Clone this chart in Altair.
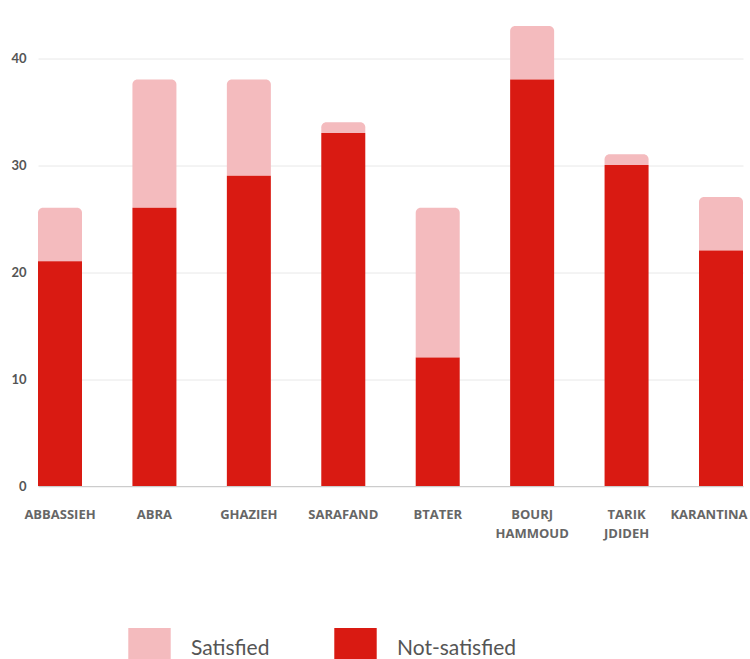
import altair as alt
import pandas as pd

areas = ["ABBASSIEH", "ABRA", "GHAZIEH", "SARAFAND", "BTATER", "BOURJ HAMMOUD", "TARIK JDIDEH", "KARANTINA"]
not_satisfied = [21, 26, 29, 33, 12, 38, 30, 22]
satisfied = [5, 12, 9, 1, 14, 5, 1, 5]

rows = []
for a, n, s in zip(areas, not_satisfied, satisfied):
    rows.append({"area": a, "status": "Not-satisfied", "y0": 0, "y1": n})
    rows.append({"area": a, "status": "Satisfied", "y0": n, "y1": n + s})
df = pd.DataFrame(rows)

color = alt.Color(
    "status:N",
    scale=alt.Scale(domain=["Satisfied", "Not-satisfied"], range=["#F4BBBE", "#D91A12"]),
    legend=alt.Legend(
        title=None, orient="none", direction="horizontal",
        legendX=90, legendY=623, symbolType="square", symbolSize=1800,
        symbolStrokeWidth=0, labelFontSize=21, labelFont="Lato", labelColor="#555555",
        labelOffset=20, columnPadding=64, symbolOpacity=1,
    ),
)

x = alt.X(
    "area:N", sort=areas, title=None,
    scale=alt.Scale(paddingInner=0.534, paddingOuter=0),
    axis=alt.Axis(
        labelAngle=0, labelFont="Open Sans", labelFontWeight="bold", labelFontSize=13,
        labelColor="#666666", labelPadding=22, ticks=False, domainColor="#cccccc",
        labelExpr="split(datum.label, ' ')", labelLineHeight=19, labelLimit=200,
        labelOffset=alt.ExprRef("datum.value == 'KARANTINA' ? -12 : 0"),
    ),
)
y = alt.Y(
    "y0:Q", title=None,
    scale=alt.Scale(domain=[0, 45], nice=False),
    axis=alt.Axis(
        values=[0, 10, 20, 30, 40], labelFont="Lato", labelFontWeight="bold", labelFontSize=13,
        labelColor="#555555", labelPadding=12, ticks=False, domain=False,
        gridColor="#e8e8e8",
    ),
)

base = alt.Chart(df)
red = base.transform_filter(alt.datum.status == "Not-satisfied").mark_bar().encode(
    x=x, y=y, y2="y1:Q", color=color
)
pink = base.transform_filter(alt.datum.status == "Satisfied").mark_bar(
    cornerRadiusTopLeft=5, cornerRadiusTopRight=5
).encode(x=x, y=y, y2="y1:Q", color=color)

chart = alt.layer(pink, red).properties(
    width=705, height=481.5,
    autosize=alt.AutoSizeParams(type="none"),
    padding={"left": 38, "top": 4.5, "right": 7, "bottom": 173},
).configure_view(stroke=None)

chart.save("out.html", embed_options={"renderer": "svg", "actions": False})
